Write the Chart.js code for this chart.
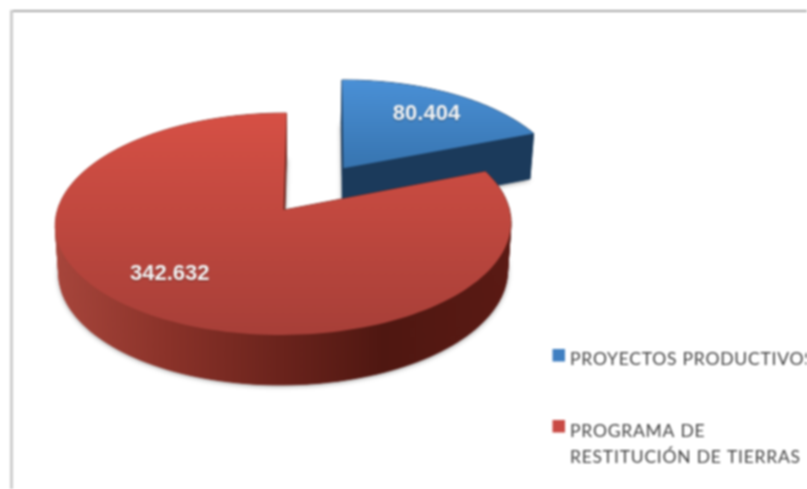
<!DOCTYPE html>
<html>
<head>
<meta charset="utf-8">
<script src="https://cdn.jsdelivr.net/npm/chart.js@4"></script>
<style>
html,body{margin:0;padding:0;background:#fff;overflow:hidden}
#c{display:block;filter:blur(0.8px)}
</style>
</head>
<body>
<canvas id="c" width="807" height="489"></canvas>
<script>
const categories = ['PROYECTOS PRODUCTIVOS', 'PROGRAMA DE RESTITUCIÓN DE TIERRAS'];
const legendLines = [['PROYECTOS PRODUCTIVOS'], ['PROGRAMA DE', 'RESTITUCIÓN DE TIERRAS']];
const values = [80404, 342632];
const valueLabels = ['80.404', '342.632'];
const offsets = [82, 0];
const sliceColors = ['#4F81BD', '#C0504D'];

// Perspective of the tilted pie plane (unit = pie radius)
const K = -0.126, SX = 226, SY = 109.2;
function project(arc, X, Y) {
  const d = 1 + K * Y;
  const skew = -1.5 - 3 * Y + 5 * Math.max(0, -Y - 1);
  return { x: arc.x + SX * X / d + skew, y: arc.y + SY * Y / d };
}
function lower(arc, p, Y) {
  return { x: arc.x + (p.x - arc.x) * 0.985, y: p.y + 47.5 + 2.5 * Y };
}
function outline(arc) {
  const mid = (arc.startAngle + arc.endAngle) / 2;
  const off = (arc.options.offset || 0) / arc.outerRadius;
  const ox = Math.cos(mid) * off, oy = Math.sin(mid) * off;
  const pts = [];
  const add = (X, Y) => { const t = project(arc, X, Y); pts.push({ top: t, bot: lower(arc, t, Y) }); };
  add(ox, oy);
  const n = 160;
  for (let i = 0; i <= n; i++) {
    const a = arc.startAngle + (arc.endAngle - arc.startAngle) * i / n;
    add(ox + Math.cos(a), oy + Math.sin(a));
  }
  return { pts, ox, oy };
}
function polar(arc, ox, oy, frac, mid) {
  return project(arc, ox + Math.cos(mid) * frac, oy + Math.sin(mid) * frac);
}
function grad(ctx, x0, y0, x1, y1, stops) {
  const g = ctx.createLinearGradient(x0, y0, x1, y1);
  stops.forEach(s => g.addColorStop(s[0], s[1]));
  return g;
}

const pie3d = {
  id: 'pie3d',
  beforeDraw(chart) {
    const ctx = chart.ctx;
    ctx.save();
    ctx.fillStyle = '#ffffff';
    ctx.fillRect(0, 0, 807, 489);
    ctx.fillStyle = '#a9a9a9';
    ctx.fillRect(10, 10, 797, 2);
    ctx.fillStyle = '#cdcdcd';
    ctx.fillRect(10, 10, 3, 479);
    ctx.restore();
  },
  beforeDatasetDraw(chart, args) {
    const ctx = chart.ctx;
    const arcs = args.meta.data;
    const styles = [
      { wall: () => '#1b3a5b',
        top: grad(ctx, 0, 80, 0, 172, [[0, '#4a90d6'], [1, '#3673ae']]) },
      { wall: () => grad(ctx, 55, 0, 510, 0, [[0, '#a8463c'], [0.25, '#8a3229'], [0.5, '#6a231c'], [0.72, '#4f1711'], [1, '#5a1a14']]),
        top: grad(ctx, 0, 113, 0, 335, [[0, '#d65045'], [1, '#a73f38']]) }
    ];
    arcs.forEach((arc, i) => {
      const { pts } = outline(arc);
      const st = styles[i];
      ctx.save();
      // soft shadow under the walls
      ctx.save();
      ctx.shadowColor = 'rgba(0,0,0,0.45)';
      ctx.shadowBlur = 5;
      ctx.shadowOffsetY = 1;
      ctx.fillStyle = i === 0 ? '#1b3a5b' : '#5a1a14';
      ctx.beginPath();
      pts.forEach((p, j) => j ? ctx.lineTo(p.bot.x, p.bot.y) : ctx.moveTo(p.bot.x, p.bot.y));
      ctx.closePath();
      ctx.fill();
      ctx.restore();
      // extruded walls
      const wall = st.wall();
      ctx.fillStyle = wall;
      ctx.strokeStyle = wall;
      ctx.lineWidth = 0.8;
      for (let j = 0; j < pts.length; j++) {
        const a = pts[j], b = pts[(j + 1) % pts.length];
        ctx.beginPath();
        ctx.moveTo(a.top.x, a.top.y);
        ctx.lineTo(b.top.x, b.top.y);
        ctx.lineTo(b.bot.x, b.bot.y);
        ctx.lineTo(a.bot.x, a.bot.y);
        ctx.closePath();
        ctx.fill();
        ctx.stroke();
      }
      // top face
      ctx.fillStyle = st.top;
      ctx.beginPath();
      pts.forEach((p, j) => j ? ctx.lineTo(p.top.x, p.top.y) : ctx.moveTo(p.top.x, p.top.y));
      ctx.closePath();
      ctx.fill();
      ctx.restore();
    });
    return false;
  },
  afterDatasetsDraw(chart) {
    const ctx = chart.ctx;
    const place = [{ f: 0.722, da: 0.03 }, { f: 0.715, da: 0.105 }];
    chart.getDatasetMeta(0).data.forEach((arc, i) => {
      const { ox, oy } = outline(arc);
      const mid = (arc.startAngle + arc.endAngle) / 2 + place[i].da;
      const p = polar(arc, ox, oy, place[i].f, mid);
      ctx.save();
      ctx.font = 'bold 22px "Liberation Sans"';
      ctx.textAlign = 'center';
      ctx.textBaseline = 'middle';
      ctx.shadowColor = 'rgba(0,0,0,0.35)';
      ctx.shadowBlur = 2;
      ctx.shadowOffsetY = 1;
      ctx.fillStyle = '#f4f4f4';
      ctx.fillText(valueLabels[i], p.x, p.y);
      ctx.restore();
    });
  },
  afterDraw(chart) {
    const ctx = chart.ctx;
    const rows = [{ sq: 349, text: 359 }, { sq: 420, text: 431.5 }];
    ctx.save();
    ctx.textBaseline = 'middle';
    ctx.font = '17.5px Lato';
    ctx.letterSpacing = '0.77px';
    legendLines.forEach((lines, i) => {
      ctx.fillStyle = i === 0 ? '#3f7fc1' : '#c94a44';
      ctx.fillRect(552.5, rows[i].sq, 12.5, 12.5);
      ctx.fillStyle = '#444444';
      lines.forEach((t, j) => ctx.fillText(t, 570, rows[i].text + j * 26));
    });
    ctx.restore();
  }
};

new Chart(document.getElementById('c'), {
  type: 'pie',
  data: {
    labels: categories,
    datasets: [{ data: values, backgroundColor: sliceColors, offset: offsets, borderWidth: 0 }]
  },
  options: {
    responsive: false,
    animation: false,
    devicePixelRatio: 1,
    layout: { padding: { left: 0, top: 0, right: 237, bottom: 69 } },
    plugins: { legend: { display: false }, tooltip: { enabled: false }, title: { display: false } }
  },
  plugins: [pie3d]
});
</script>
</body>
</html>
